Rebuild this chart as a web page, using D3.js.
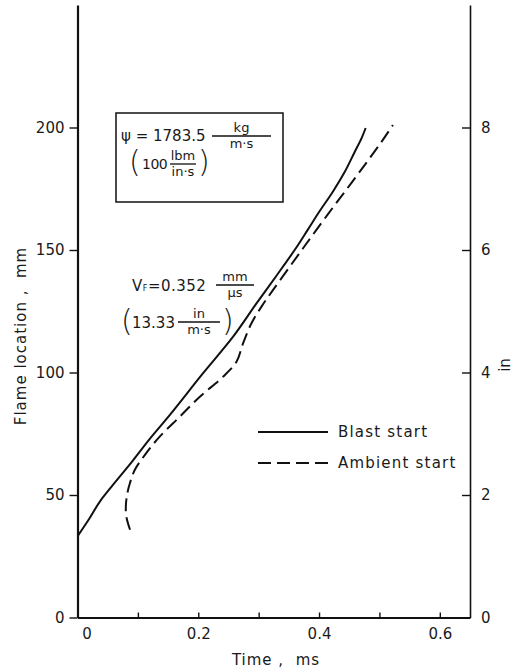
<!DOCTYPE html>
<html>
<head>
<meta charset="utf-8">
<script src="https://cdn.jsdelivr.net/npm/d3@7"></script>
<style>
  body { margin: 0; background: #fff; }
  svg text { font-family: "DejaVu Sans", sans-serif; fill: #1a1a1a; }
</style>
</head>
<body>
<script>
// [time (ms), flame location (mm)]
const blastStart = [
  [0.001, 33.5], [0.02, 40.5], [0.037, 47.3], [0.059, 54.2], [0.09, 63.5],
  [0.12, 73], [0.153, 82.7], [0.208, 99.7], [0.2577, 114.6], [0.2964, 128.2],
  [0.3295, 139.5], [0.363, 151.2], [0.3812, 158.2], [0.4011, 165.9], [0.4226, 173.7],
  [0.4424, 181.8], [0.459, 190.0], [0.4705, 195.7], [0.4772, 199.8]
];
const ambientStart = [
  [0.087, 35.8], [0.081, 41], [0.080, 45], [0.082, 50], [0.087, 55],
  [0.095, 60.3], [0.112, 66.5], [0.135, 73.5], [0.1695, 82.0], [0.2026, 90.1],
  [0.2411, 98.3], [0.2633, 104.4], [0.2742, 111.9], [0.2881, 120.1], [0.3047, 126.9],
  [0.3239, 133.7], [0.3515, 143.2], [0.3735, 150.7], [0.3956, 158.2], [0.425, 168],
  [0.454, 177.5], [0.481, 186.5], [0.503, 194], [0.5223, 201]
];
const timeTicks = [0, 0.1, 0.2, 0.3, 0.4, 0.5, 0.6];
const timeLabels = ["0", "", "0.2", "", "0.4", "", "0.6"];
const mmTicks = [0, 50, 100, 150, 200];
const inTicks = [0, 2, 4, 6, 8];
const legendNames = ["Blast start", "Ambient start"];

const WIDTH = 516;
const HEIGHT = 668;
const LEFT = 77.5, RIGHT = 470, TOP = 5, BOTTOM = 617.5;

const svg = d3.select("body")
  .append("svg")
  .attr("width", WIDTH)
  .attr("height", HEIGHT);

const xScale = d3.scaleLinear().domain([0, 0.65]).range([LEFT, RIGHT]);
const yScale = d3.scaleLinear().domain([0, 250]).range([BOTTOM, TOP]);
const yInScale = d3.scaleLinear().domain([0, 10]).range([BOTTOM, TOP]);

function styleAxis(g, width) {
  g.attr("font-family", null).attr("font-size", 15);
  g.select(".domain").attr("stroke", "#111").attr("stroke-width", width);
  g.selectAll(".tick line").attr("stroke", "#111").attr("stroke-width", 1.4);
  g.selectAll(".tick text").attr("fill", "#1a1a1a");
}

// axes
const xAxis = svg.append("g")
  .attr("transform", "translate(0," + BOTTOM + ")")
  .call(d3.axisBottom(xScale)
    .tickValues(timeTicks)
    .tickFormat((d, i) => timeLabels[i])
    .tickSizeInner(-5).tickSizeOuter(0).tickPadding(11));
styleAxis(xAxis, 2);
xAxis.selectAll(".tick text").filter(d => d === 0).attr("dx", 9);

const yAxis = svg.append("g")
  .attr("transform", "translate(" + LEFT + ",0)")
  .call(d3.axisLeft(yScale)
    .tickValues(mmTicks)
    .tickSizeInner(8).tickSizeOuter(0).tickPadding(5));
styleAxis(yAxis, 2.2);

const yInAxis = svg.append("g")
  .attr("transform", "translate(" + RIGHT + ",0)")
  .call(d3.axisRight(yInScale)
    .tickValues(inTicks)
    .tickSizeInner(-8).tickSizeOuter(0).tickPadding(11));
styleAxis(yInAxis, 1.6);

// axis titles
svg.append("text")
  .attr("x", 276).attr("y", 665)
  .attr("text-anchor", "middle")
  .attr("font-size", 15)
  .attr("letter-spacing", 1)
  .style("white-space", "pre")
  .text("Time ,  ms");

svg.append("text")
  .attr("transform", "translate(26,336) rotate(-90)")
  .attr("text-anchor", "middle")
  .attr("font-size", 15)
  .attr("letter-spacing", 1)
  .style("white-space", "pre")
  .text("Flame location ,  mm");

svg.append("text")
  .attr("transform", "translate(510,365) rotate(-90)")
  .attr("text-anchor", "middle")
  .attr("font-size", 15)
  .text("in");

// curves
const line = d3.line()
  .x(d => xScale(d[0]))
  .y(d => yScale(d[1]))
  .curve(d3.curveCatmullRom.alpha(0.5));

svg.append("path")
  .datum(blastStart)
  .attr("fill", "none")
  .attr("stroke", "#111")
  .attr("stroke-width", 2)
  .attr("d", line);

svg.append("path")
  .datum(ambientStart)
  .attr("fill", "none")
  .attr("stroke", "#111")
  .attr("stroke-width", 2)
  .attr("stroke-dasharray", "13,6")
  .attr("d", line);

// legend
const legend = svg.append("g");
legendNames.forEach((name, i) => {
  const ly = 432 + i * 31;
  legend.append("line")
    .attr("x1", 258).attr("x2", 328)
    .attr("y1", ly).attr("y2", ly)
    .attr("stroke", "#111")
    .attr("stroke-width", 2)
    .attr("stroke-dasharray", i === 0 ? null : "13,6");
  legend.append("text")
    .attr("x", 338).attr("y", ly + 5)
    .attr("font-size", 15)
    .attr("letter-spacing", 1.2)
    .text(name);
});

// fraction helper
function fraction(x1, x2, yBar, num, den) {
  const cx = (x1 + x2) / 2;
  svg.append("line")
    .attr("x1", x1).attr("x2", x2)
    .attr("y1", yBar).attr("y2", yBar)
    .attr("stroke", "#111").attr("stroke-width", 1.3);
  svg.append("text").attr("x", cx).attr("y", yBar - 4)
    .attr("text-anchor", "middle").attr("font-size", 13).text(num);
  svg.append("text").attr("x", cx).attr("y", yBar + 12)
    .attr("text-anchor", "middle").attr("font-size", 13).text(den);
}
function paren(x, yMid, ch) {
  svg.append("text").attr("x", x).attr("y", yMid + 9)
    .attr("font-size", 30).attr("font-weight", 200).text(ch);
}

// mass flux box
svg.append("rect")
  .attr("x", 116).attr("y", 113)
  .attr("width", 167).attr("height", 89)
  .attr("fill", "none").attr("stroke", "#111").attr("stroke-width", 1.5);

svg.append("text").attr("x", 121).attr("y", 141).attr("font-size", 15)
  .style("white-space", "pre").text("\u03c8 = 1783.5");
fraction(212, 271, 136, "kg", "m\u00b7s");
paren(129, 163, "(");
svg.append("text").attr("x", 142).attr("y", 169).attr("font-size", 14)
  .attr("letter-spacing", -0.5).text("100");
fraction(170, 196, 164, "lbm", "in\u00b7s");
paren(198, 163, ")");

// flame velocity note
const vf = svg.append("text").attr("x", 132).attr("y", 291).attr("font-size", 15)
  .attr("letter-spacing", 0.5);
vf.append("tspan").text("V");
vf.append("tspan").attr("font-size", 8).text("F");
vf.append("tspan").text("=0.352");
fraction(216, 254, 285, "mm", "\u03bcs");
paren(121, 322, "(");
svg.append("text").attr("x", 132).attr("y", 328).attr("font-size", 15).text("13.33");
fraction(178, 220, 322, "in", "m\u00b7s");
paren(222, 322, ")");
</script>
</body>
</html>
